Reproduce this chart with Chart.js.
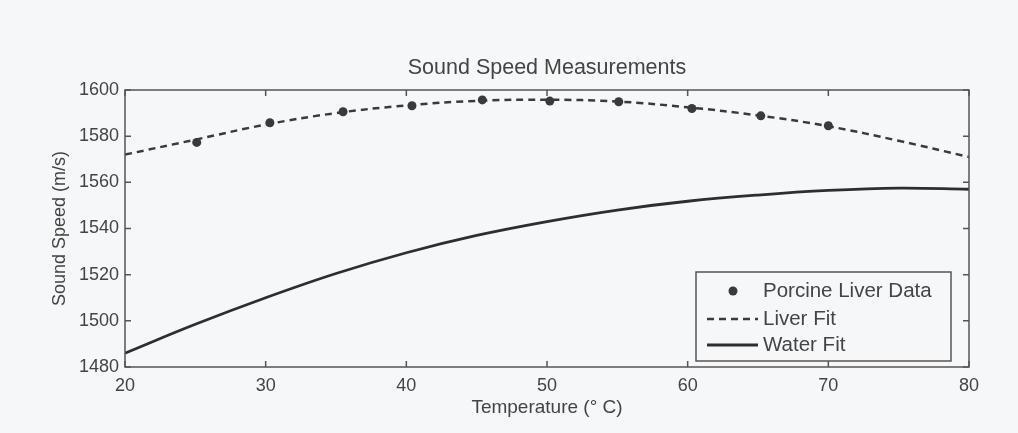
<!DOCTYPE html>
<html>
<head>
<meta charset="utf-8">
<script src="https://cdn.jsdelivr.net/npm/chart.js@4.4.0/dist/chart.umd.min.js"></script>
<style>
  html, body { margin: 0; padding: 0; background: #f5f7f8; }
  canvas { display: block; }
</style>
</head>
<body>
<canvas id="myChart" width="1018" height="433"></canvas>
<script>
// measured points
const dataTemps = [25.1, 30.3, 35.5, 40.4, 45.4, 50.2, 55.1, 60.3, 65.2, 70.0];
const liverData = [1577.3, 1585.8, 1590.6, 1593.2, 1595.7, 1595.2, 1594.9, 1592.0, 1588.8, 1584.5];

const fitTemps = [20, 25, 30, 35, 40, 45, 50, 55, 60, 65, 70, 75, 80];
const liverFit = [1572, 1578.5, 1585, 1590, 1593.3, 1595.3, 1595.8, 1595, 1592.5, 1589, 1584.3, 1578, 1571];
const waterFit = [1486, 1498.5, 1510, 1520.5, 1529.5, 1537, 1543, 1548, 1551.8, 1554.5, 1556.5, 1557.5, 1557];

const xTicks = [20, 30, 40, 50, 60, 70, 80];
const yTicks = [1480, 1500, 1520, 1540, 1560, 1580, 1600];

const chartTitle = 'Sound Speed Measurements';
const textColor = '#444';
const font = 'Liberation Sans, Arial, sans-serif';

const toPoints = (xs, ys) => xs.map((x, i) => ({ x: x, y: ys[i] }));

// box + inward ticks on all four sides (MATLAB look), title centred on the axes
const framePlugin = {
	id: 'frame',
	afterDatasetsDraw(chart) {
		const { ctx, chartArea: a, scales } = chart;
		const len = 6;
		ctx.save();
		ctx.strokeStyle = '#555';
		ctx.lineWidth = 1.5;
		ctx.strokeRect(a.left, a.top, a.right - a.left, a.bottom - a.top);
		ctx.beginPath();
		xTicks.forEach(v => {
			const px = scales.x.getPixelForValue(v);
			ctx.moveTo(px, a.bottom); ctx.lineTo(px, a.bottom - len);
			ctx.moveTo(px, a.top); ctx.lineTo(px, a.top + len);
		});
		yTicks.forEach(v => {
			const py = scales.y.getPixelForValue(v);
			ctx.moveTo(a.left, py); ctx.lineTo(a.left + len, py);
			ctx.moveTo(a.right, py); ctx.lineTo(a.right - len, py);
		});
		ctx.stroke();

		ctx.fillStyle = textColor;
		ctx.font = '21.5px ' + font;
		ctx.textAlign = 'center';
		ctx.textBaseline = 'middle';
		ctx.fillText(chartTitle, (a.left + a.right) / 2, a.top - 22);
		ctx.restore();
	}
};

// legend box inside the plot, lower right
const boxLegend = {
	id: 'boxLegend',
	afterDraw(chart) {
		const { ctx, chartArea: a } = chart;
		const w = 255, h = 89;
		const x0 = a.right - 18 - w, y0 = a.bottom - 6 - h;
		ctx.save();
		ctx.fillStyle = '#f5f7f8';
		ctx.fillRect(x0, y0, w, h);
		ctx.strokeStyle = '#555';
		ctx.lineWidth = 1.5;
		ctx.strokeRect(x0, y0, w, h);
		ctx.font = '20.5px ' + font;
		ctx.textBaseline = 'middle';
		const rows = [19, 47, 73];
		chart.data.datasets.forEach((ds, i) => {
			const y = y0 + rows[i];
			if (ds.showLine === false) {
				ctx.fillStyle = ds.pointBackgroundColor;
				ctx.beginPath();
				ctx.arc(x0 + 37, y, ds.pointRadius, 0, Math.PI * 2);
				ctx.fill();
			} else {
				ctx.strokeStyle = ds.borderColor;
				ctx.lineWidth = ds.borderWidth;
				ctx.setLineDash(ds.borderDash || []);
				ctx.beginPath();
				ctx.moveTo(x0 + 11, y); ctx.lineTo(x0 + 62, y);
				ctx.stroke();
				ctx.setLineDash([]);
			}
			ctx.fillStyle = textColor;
			ctx.fillText(ds.label, x0 + 67, y);
		});
		ctx.restore();
	}
};

const ctx = document.getElementById('myChart');
new Chart(ctx, {
	type: 'scatter',
	data: {
		datasets: [
			{
				label: 'Porcine Liver Data',
				data: toPoints(dataTemps, liverData),
				showLine: false,
				pointRadius: 4.5,
				pointBackgroundColor: '#3a3a3a',
				pointBorderWidth: 0
			},
			{
				label: 'Liver Fit',
				data: toPoints(fitTemps, liverFit),
				showLine: true,
				pointRadius: 0,
				borderColor: '#3a3a3a',
				borderWidth: 2.5,
				borderDash: [7, 5],
				tension: 0.4
			},
			{
				label: 'Water Fit',
				data: toPoints(fitTemps, waterFit),
				showLine: true,
				pointRadius: 0,
				borderColor: '#2e2e2e',
				borderWidth: 2.8,
				tension: 0.4
			}
		]
	},
	options: {
		responsive: false,
		animation: false,
		devicePixelRatio: 1,
		layout: { padding: { left: 40, top: 90, right: 49, bottom: 10 } },
		plugins: {
			legend: { display: false },
			tooltip: { enabled: false },
			title: { display: false }
		},
		scales: {
			x: {
				type: 'linear',
				min: 20,
				max: 80,
				afterBuildTicks: s => { s.ticks = xTicks.map(v => ({ value: v })); },
				afterFit: s => { s.height = 56; },
				grid: { display: false, drawTicks: false },
				border: { display: false },
				ticks: { color: textColor, font: { family: font, size: 18 }, padding: 8, maxRotation: 0 },
				title: {
					display: true,
					text: 'Temperature (° C)',
					color: textColor,
					font: { family: font, size: 19 },
					padding: { top: 0, bottom: 4 }
				}
			},
			y: {
				min: 1480,
				max: 1600,
				afterBuildTicks: s => { s.ticks = yTicks.map(v => ({ value: v })); },
				afterFit: s => { s.width = 85; },
				grid: { display: false, drawTicks: false },
				border: { display: false },
				ticks: {
					color: textColor,
					font: { family: font, size: 18 },
					padding: 6,
					callback: v => String(v)
				},
				title: {
					display: true,
					text: 'Sound Speed (m/s)',
					color: textColor,
					font: { family: font, size: 18 },
					padding: { top: 9, bottom: 0 }
				}
			}
		}
	},
	plugins: [framePlugin, boxLegend]
});
</script>
</body>
</html>
